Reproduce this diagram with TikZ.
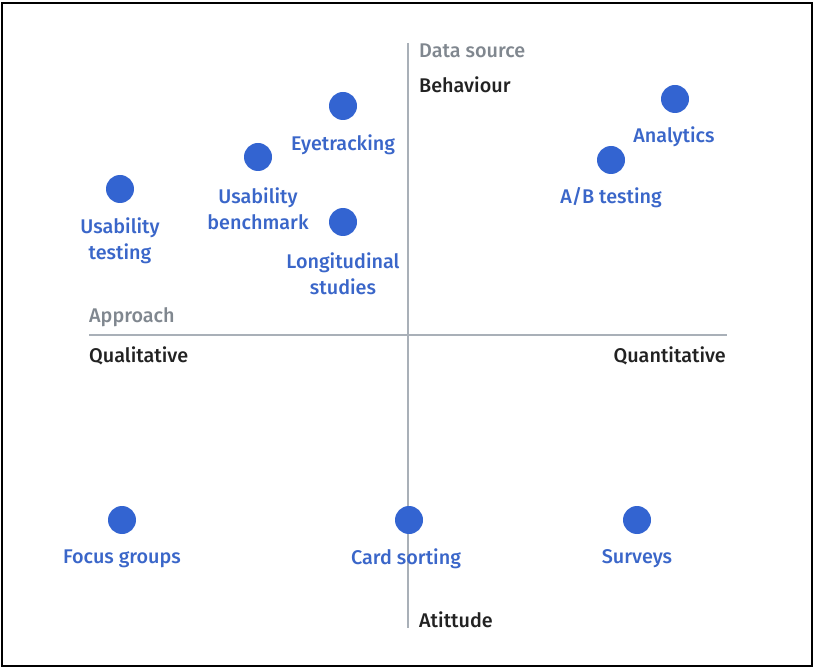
\documentclass[tikz,border=0pt]{standalone}
\usepackage{fontspec}
\setmainfont{Fira Sans}[UprightFont={* Medium}]
\definecolor{dotblue}{HTML}{3364D1}
\definecolor{txtblue}{HTML}{3A66C9}
\definecolor{axisgray}{HTML}{A9B0B8}
\definecolor{lblgray}{HTML}{80878F}
\definecolor{lblblack}{HTML}{222222}
\begin{document}
\begin{tikzpicture}[x=1pt,y=-1pt,
  dot/.style={circle,fill=dotblue,minimum size=28pt,inner sep=0pt},
  method/.style={text=txtblue,font=\fontsize{19.8}{26}\selectfont,align=center,inner sep=0pt},
  axlbl/.style={text=lblblack,font=\fontsize{19.8}{26}\selectfont,inner sep=0pt},
  axttl/.style={text=lblgray,font=\fontsize{19.8}{26}\selectfont,inner sep=0pt},
  axis/.style={draw=axisgray,line width=1.4pt}]
\useasboundingbox (0,0) rectangle (814,668);
\draw[line width=2.6pt] (2,3) rectangle (812,666);
% axes
\coordinate (vt) at (408,43);
\coordinate (vb) at (408,628);
\coordinate (hl) at (89,335);
\coordinate (hr) at (727,335);
\draw[axis] (vt) -- (vb);
\draw[axis] (hl) -- (hr);
% axis labels
\node[axttl,anchor=west] (ds) at (419,51) {Data source};
\node[axlbl,anchor=west] (beh) at (419,85) {Behaviour};
\node[axttl,anchor=west] (appr) at (89,317) {Approach};
\node[axlbl,anchor=west] (qual) at (89,356) {Qualitative};
\node[axlbl,anchor=east] (quant) at (726,356) {Quantitative};
\node[axlbl,anchor=west] (att) at (419,620) {Atittude};
% dots
\node[dot] (d1) at (343,106) {};
\node[method] (l1) at (343,145) {Eyetracking};
\node[dot] (d2) at (258,157) {};
\node[method] (l2) at (258,209) {Usability\\benchmark};
\node[dot] (d3) at (120,189) {};
\node[method] (l3) at (120,241) {Usability\\testing};
\node[dot] (d4) at (343,222) {};
\node[method] (l4) at (343,274) {Longitudinal\\studies};
\node[dot] (d5) at (675,99) {};
\node[method] (l5) at (674,137) {Analytics};
\node[dot] (d6) at (611,160) {};
\node[method] (l6) at (611,198) {A/B testing};
\node[dot] (d7) at (122,520) {};
\node[method] (l7) at (122,559) {Focus groups};
\node[dot] (d8) at (409,520) {};
\node[method] (l8) at (406,559) {Card sorting};
\node[dot] (d9) at (637,520) {};
\node[method] (l9) at (637,559) {Surveys};
\end{tikzpicture}
\end{document}
